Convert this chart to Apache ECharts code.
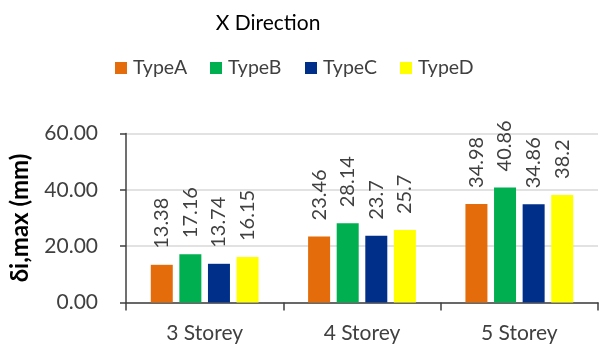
<!DOCTYPE html>
<html>
<head>
<meta charset="utf-8">
<script src="https://cdn.jsdelivr.net/npm/echarts@6/dist/echarts.min.js"></script>
<style>
  html, body { margin: 0; padding: 0; background: #fff; }
  #chart { width: 599px; height: 345px; }
</style>
</head>
<body>
<div id="chart"></div>
<script>
// Maximum inter-storey drift, X direction
const categories = ['3 Storey', '4 Storey', '5 Storey'];
const typeA = [13.38, 23.46, 34.98];
const typeB = [17.16, 28.14, 40.86];
const typeC = [13.74, 23.7, 34.86];
const typeD = [16.15, 25.7, 38.2];
const seriesNames = ['TypeA', 'TypeB', 'TypeC', 'TypeD'];
const seriesColors = ['#E46C0A', '#00B050', '#002F8A', '#FFFF00'];

const FONT = 'Lato';
const TEXT = '#404040';

const chart = echarts.init(document.getElementById('chart'), null, { renderer: 'canvas' });

const makeSeries = (name, data, color) => ({
  name: name,
  type: 'bar',
  data: data,
  barWidth: 22,
  barGap: '30%',
  itemStyle: { color: color },
  label: {
    show: true,
    position: 'top',
    rotate: 90,
    align: 'left',
    verticalAlign: 'middle',
    distance: 16,
    color: TEXT,
    fontFamily: FONT,
    fontSize: 20,
    formatter: (p) => String(p.value)
  }
});

// One legend block per series so the entries sit on an even 95px pitch
const legends = seriesNames.map((name, i) => ({
  left: 115 + i * 95,
  top: 58,
  padding: 0,
  itemWidth: 12,
  itemHeight: 12,
  itemGap: 0,
  icon: 'rect',
  textStyle: { fontFamily: FONT, fontSize: 19.5, color: TEXT, padding: [0, 0, 0, 1] },
  data: [name]
}));

chart.setOption({
  animation: false,
  title: {
    text: 'X Direction',
    left: 263,
    textAlign: 'center',
    top: 8,
    textStyle: { fontFamily: FONT, fontSize: 21, fontWeight: 'normal', color: '#000' }
  },
  legend: legends,
  grid: { left: 126, right: 1, top: 133.5, bottom: 42.5, containLabel: false },
  xAxis: {
    type: 'category',
    data: categories,
    axisLine: { lineStyle: { color: TEXT, width: 1.5 } },
    axisTick: { show: true, length: 8, lineStyle: { color: TEXT, width: 1.5 } },
    axisLabel: { fontFamily: FONT, fontSize: 21, color: TEXT, margin: 20 }
  },
  yAxis: {
    type: 'value',
    min: 0,
    max: 60,
    interval: 20,
    name: 'δi,max (mm)',
    nameLocation: 'middle',
    nameRotate: 90,
    nameGap: 94,
    nameTextStyle: { fontFamily: FONT, fontSize: 24, fontWeight: 'bold', color: '#000' },
    axisLine: { show: true, lineStyle: { color: TEXT, width: 1.5 } },
    axisTick: { show: true, length: 6, lineStyle: { color: TEXT, width: 1.5 } },
    axisLabel: { fontFamily: FONT, fontSize: 21, color: TEXT, margin: 28, formatter: (v) => v.toFixed(2) },
    splitLine: { lineStyle: { color: '#D9D9D9', width: 1.5 } }
  },
  series: [
    makeSeries(seriesNames[0], typeA, seriesColors[0]),
    makeSeries(seriesNames[1], typeB, seriesColors[1]),
    makeSeries(seriesNames[2], typeC, seriesColors[2]),
    makeSeries(seriesNames[3], typeD, seriesColors[3])
  ]
});
</script>
</body>
</html>
